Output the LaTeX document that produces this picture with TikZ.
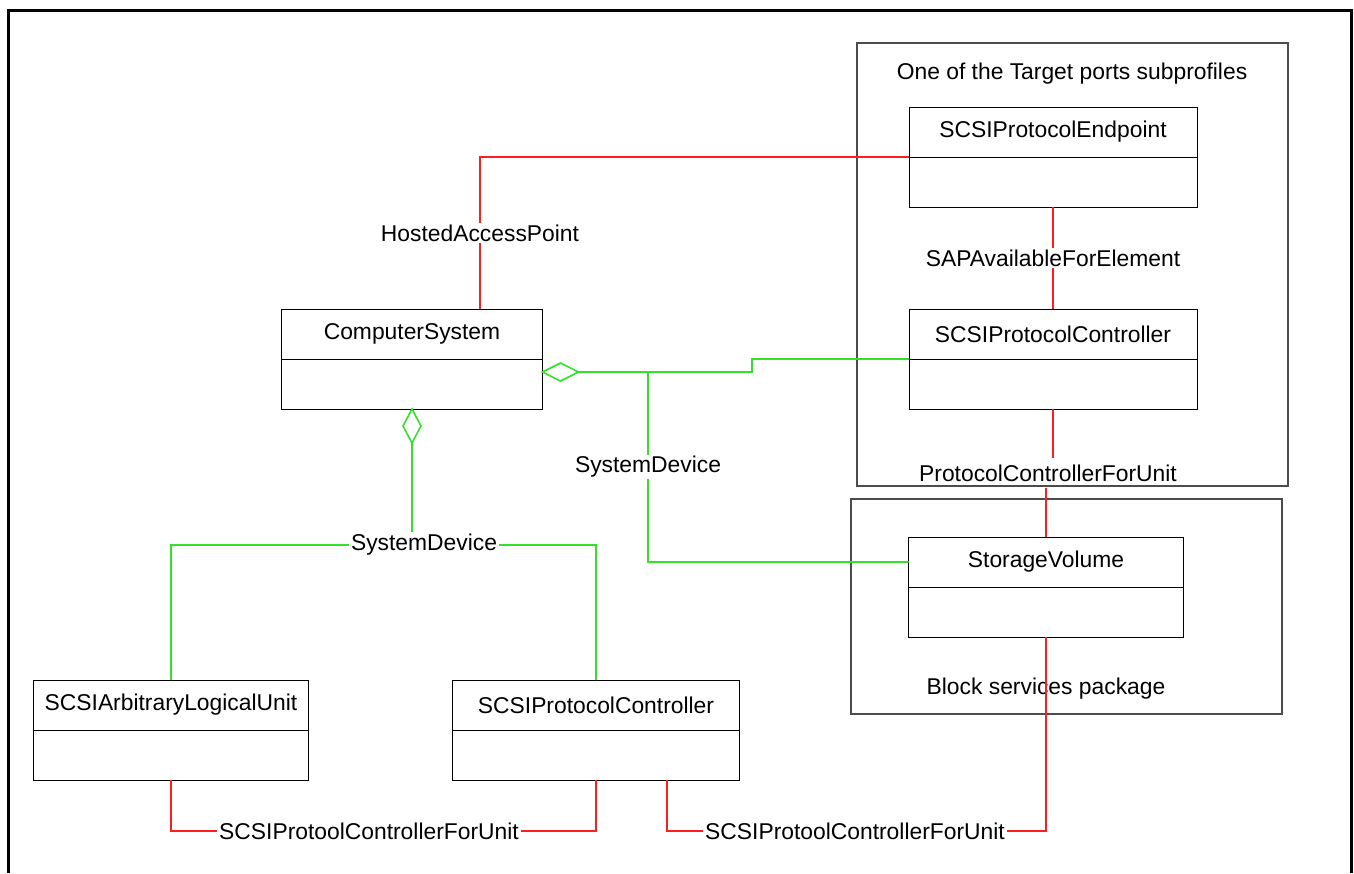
\documentclass[tikz,border=0pt]{standalone}
\usepackage{fontspec}
\setmainfont{Liberation Sans}
\usetikzlibrary{positioning,shapes.geometric}
\definecolor{umlred}{RGB}{255,30,30}
\definecolor{umlgreen}{RGB}{50,225,40}
\begin{document}
\begin{tikzpicture}[x=0.02cm, y=-0.02cm,
    every node/.style={font=\fontsize{13}{15}\selectfont},
    cls/.style={draw, line width=0.5pt, minimum height=1.0cm, inner sep=0pt, outer sep=0pt},
    pkg/.style={draw=black!70, line width=0.6pt},
    assoc/.style={draw=umlred, line width=0.9pt},
    sysdev/.style={draw=umlgreen, line width=0.9pt},
    agg/.style={diamond, draw=umlgreen, line width=0.9pt, fill=white, inner sep=0pt, outer sep=0pt},
    lbl/.style={fill=white, inner sep=1pt}
  ]
  \useasboundingbox (0,0) rectangle (1354,873);
  % Frame
  \draw[line width=0.06cm] (8.5,873) -- (8.5,10) -- (1351.5,10) -- (1351.5,873);
  % Packages
  \draw[pkg] (857,43) rectangle (1288,486);
  \node (tp-title) at (1072,74) {One of the Target ports subprofiles};
  \draw[pkg] (851,499) rectangle (1282,714);
  \node (bs-title) at (1046,689) {Block services package};
  % Classes
  \node[cls, minimum width=5.22cm] (cs) at (412,334) {ComputerSystem};
  \node[cls, minimum width=5.22cm, below=0pt of cs] (cs-b) {};
  \node[cls, minimum width=5.76cm] (ep) at (1053,132) {SCSIProtocolEndpoint};
  \node[cls, minimum width=5.76cm, below=0pt of ep] (ep-b) {};
  \node[cls, minimum width=5.76cm] (pc) at (1053,334) {SCSIProtocolController};
  \node[cls, minimum width=5.76cm, below=0pt of pc] (pc-b) {};
  \node[cls, minimum width=5.5cm] (sv) at (1046,562) {StorageVolume};
  \node[cls, minimum width=5.5cm, below=0pt of sv] (sv-b) {};
  \node[cls, minimum width=5.5cm] (alu) at (171,705) {SCSIArbitraryLogicalUnit};
  \node[cls, minimum width=5.5cm, below=0pt of alu] (alu-b) {};
  \node[cls, minimum width=5.74cm] (pc2) at (596,705) {SCSIProtocolController};
  \node[cls, minimum width=5.74cm, below=0pt of pc2] (pc2-b) {};
  % HostedAccessPoint
  \draw[assoc] ([xshift=1.36cm]cs.north) |- node[lbl, pos=0.25] {HostedAccessPoint} (ep.south west);
  % SAPAvailableForElement
  \draw[assoc] (ep-b.south) -- node[lbl] {SAPAvailableForElement} (pc.north);
  % ProtocolControllerForUnit
  \node (pcfu) at (1048,473) {ProtocolControllerForUnit};
  \draw[assoc] (pc-b.south) -- (pc-b.south |- pcfu.north);
  \draw[assoc] (sv.north) -- (sv.north |- pcfu.south);
  % SystemDevice to the right
  \node[agg, minimum width=0.72cm, minimum height=0.36cm, anchor=west] (agr) at ([yshift=0.24cm]cs-b.east) {};
  \coordinate (sdj) at (648,372);
  \draw[sysdev] (agr.east) -- (sdj) |- node[lbl, pos=0.25] {SystemDevice} (sv.west);
  \draw[sysdev, line width=0.7pt] (sdj) -- ++(104,0) |- (pc.south west);
  % SystemDevice below
  \node[agg, minimum width=0.36cm, minimum height=0.68cm, anchor=north] (agb) at (cs-b.south) {};
  \node[lbl] (sd2) at (424,545) {SystemDevice};
  \draw[sysdev] (agb.south) -- (agb.south |- sd2.north);
  \draw[sysdev] (sd2.west) -| (alu.north);
  \draw[sysdev] (sd2.east) -| (pc2.north);
  % SCSIProtoolControllerForUnit
  \node[lbl] (pcu1) at (369,831) {SCSIProtoolControllerForUnit};
  \draw[assoc] (alu-b.south) |- (pcu1.west);
  \draw[assoc] (pcu1.east) -| (pc2-b.south);
  \node[lbl] (pcu2) at (855,831) {SCSIProtoolControllerForUnit};
  \draw[assoc] ([xshift=1.42cm]pc2-b.south) |- (pcu2.west);
  \draw[assoc] (pcu2.east) -| (sv-b.south);
\end{tikzpicture}
\end{document}
